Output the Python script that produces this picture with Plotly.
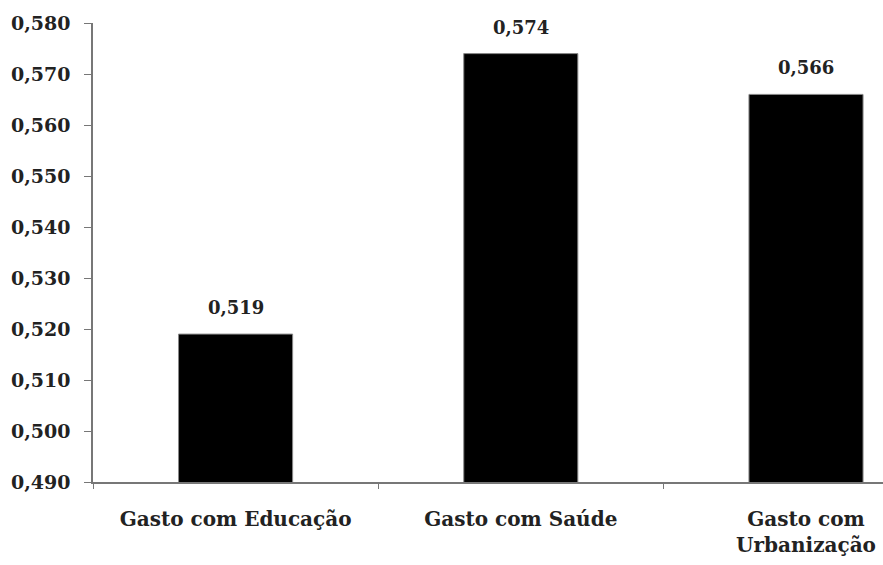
import plotly.graph_objects as go

categories = ["Gasto com Educação", "Gasto com Saúde", "Gasto com<br>Urbanização"]
values = [0.519, 0.574, 0.566]
value_labels = ["0,519", "0,574", "0,566"]
y_ticks = [0.49, 0.50, 0.51, 0.52, 0.53, 0.54, 0.55, 0.56, 0.57, 0.58]

font_family = "DejaVu Serif, Liberation Serif, serif"
text_color = "#222222"

fig = go.Figure(go.Bar(
    x=categories,
    y=values,
    marker=dict(color="black", line=dict(color="#888888", width=1)),
    width=0.4,
    cliponaxis=False,
))

for c, v, t in zip(categories, values, value_labels):
    fig.add_annotation(
        x=c, y=v, text=t, showarrow=False, yanchor="bottom", yshift=14,
        font=dict(family=font_family, size=18, color=text_color, weight="bold"),
    )

fig.update_layout(
    width=883, height=565,
    margin=dict(l=93, r=0, t=23, b=83),
    plot_bgcolor="white", paper_bgcolor="white",
    separators=",.",
    showlegend=False,
    font=dict(family=font_family, size=18, color=text_color),
)
fig.update_xaxes(
    range=[-0.5, 2.27],
    showline=True, linecolor="#777777", linewidth=1.5,
    ticks="outside", tickson="boundaries", ticklen=5, tickcolor="#777777",
    ticklabelstandoff=18,
    tickfont=dict(family=font_family, size=20, color=text_color, weight="bold"),
    showgrid=False,
)
fig.update_yaxes(
    range=[0.49, 0.58],
    tickvals=y_ticks, tickformat=".3f",
    showline=True, linecolor="#777777", linewidth=1.5,
    ticks="outside", ticklen=7, tickcolor="#777777",
    ticklabelstandoff=10,
    tickfont=dict(family=font_family, size=19, color=text_color, weight="bold"),
    showgrid=False, zeroline=False,
)

fig.write_html("out.html")
